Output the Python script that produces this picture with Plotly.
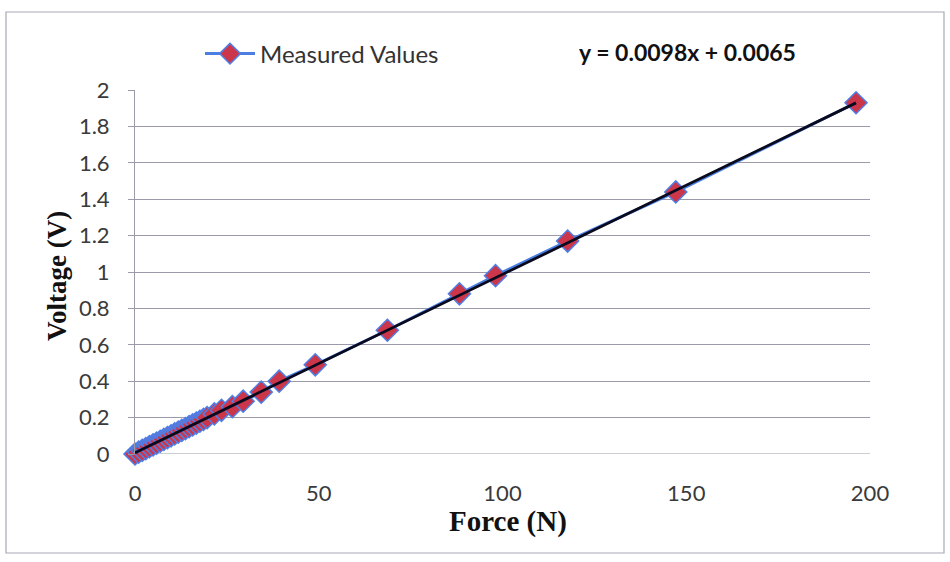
import plotly.graph_objects as go

# Calibration data: applied force (N) and measured sensor voltage (V)
force_n = [0.0, 0.98, 1.96, 2.94, 3.92, 4.91, 5.89, 6.87, 7.85, 8.83, 9.81,
           10.79, 11.77, 12.75, 13.73, 14.72, 15.70, 16.68, 17.66, 18.64, 19.62,
           21.58, 23.54, 26.49, 29.43, 34.34, 39.24, 49.05, 68.67, 88.29, 98.10,
           117.72, 147.15, 196.20]
voltage_v = [0.00, 0.01, 0.02, 0.03, 0.04, 0.05, 0.06, 0.07, 0.08, 0.09, 0.10,
             0.11, 0.12, 0.13, 0.14, 0.15, 0.16, 0.17, 0.18, 0.19, 0.20,
             0.22, 0.24, 0.26, 0.29, 0.34, 0.40, 0.49, 0.68, 0.88, 0.98,
             1.17, 1.44, 1.93]

# Linear trendline
slope = 0.0098
intercept = 0.0065
trend_x = [0.0, 196.2]
trend_y = [slope * x + intercept for x in trend_x]

x_ticks = [0, 50, 100, 150, 200]
y_ticks = [0, 0.2, 0.4, 0.6, 0.8, 1, 1.2, 1.4, 1.6, 1.8, 2]
y_tick_text = ["0", "0.2", "0.4", "0.6", "0.8", "1", "1.2", "1.4", "1.6", "1.8", "2"]

LABEL_FONT = "Lato, 'Open Sans', sans-serif"
TITLE_FONT = "'Liberation Serif', 'Times New Roman', serif"

fig = go.Figure()

fig.add_trace(go.Scatter(
    x=force_n, y=voltage_v,
    mode="lines+markers",
    name="Measured Values",
    line=dict(color="#4A7EE0", width=3),
    marker=dict(symbol="diamond", size=17, color="#CC364B",
                line=dict(color="#4F7FE6", width=1.5)),
    cliponaxis=False,
))

fig.add_trace(go.Scatter(
    x=trend_x, y=trend_y,
    mode="lines",
    line=dict(color="#0A0A1E", width=2.8),
    showlegend=False,
    hoverinfo="skip",
    cliponaxis=False,
))

# Plot-area geometry in pixels (used to place paper-referenced items)
L, R, T, B = 135, 80, 90, 108
W, H = 950, 562
pw, ph = W - L - R, H - T - B


def px_x(p):
    return (p - L) / pw


def px_y(p):
    return (H - B - p) / ph


fig.update_layout(
    width=W, height=H,
    margin=dict(l=L, r=R, t=T, b=B),
    paper_bgcolor="white",
    plot_bgcolor="white",
    font=dict(family=LABEL_FONT, size=22, color="#333333"),
    showlegend=True,
    legend=dict(
        x=px_x(200), y=px_y(54), xanchor="left", yanchor="middle",
        orientation="h",
        font=dict(family=LABEL_FONT, size=24, color="#333333"),
        bgcolor="rgba(0,0,0,0)",
        itemwidth=50,
    ),
    xaxis=dict(
        range=[0, 200],
        tickvals=x_ticks,
        showgrid=False,
        zeroline=False,
        showline=False,
        ticks="",
        ticklabelstandoff=24,
        tickfont=dict(family=LABEL_FONT, size=22, color="#3A3A3A"),
    ),
    yaxis=dict(
        range=[0, 2],
        tickvals=y_ticks,
        ticktext=y_tick_text,
        showgrid=True,
        gridcolor="#9A9AAA",
        gridwidth=1,
        zeroline=False,
        showline=True,
        linecolor="#9A9AAA",
        linewidth=1,
        ticks="outside",
        ticklen=6,
        tickcolor="#9A9AAA",
        ticklabelstandoff=14,
        tickfont=dict(family=LABEL_FONT, size=22, color="#3A3A3A"),
    ),
    annotations=[
        dict(text="<b>y = 0.0098x + 0.0065</b>", xref="paper", yref="paper",
             x=px_x(687), y=px_y(52), xanchor="center", yanchor="middle",
             showarrow=False,
             font=dict(family=LABEL_FONT, size=23, color="#111111")),
        dict(text="<b>Force (N)</b>", xref="paper", yref="paper",
             x=px_x(508), y=px_y(521), xanchor="center", yanchor="middle",
             showarrow=False,
             font=dict(family=TITLE_FONT, size=29, color="#111111")),
        dict(text="<b>Voltage (V)</b>", xref="paper", yref="paper",
             x=px_x(57), y=px_y(276), xanchor="center", yanchor="middle",
             textangle=-90, showarrow=False,
             font=dict(family=TITLE_FONT, size=27, color="#111111")),
    ],
    shapes=[
        # chart outer border
        dict(type="rect", xref="paper", yref="paper",
             x0=px_x(6), x1=px_x(944), y0=px_y(12), y1=px_y(553),
             line=dict(color="#A8A8B4", width=1.2), layer="below"),
    ],
)

# The x axis baseline is the zero gridline
fig.add_shape(type="line", xref="x", yref="y", x0=0, x1=200, y0=0, y1=0,
              line=dict(color="#9A9AAA", width=1), layer="below")

fig.write_html("out.html")
